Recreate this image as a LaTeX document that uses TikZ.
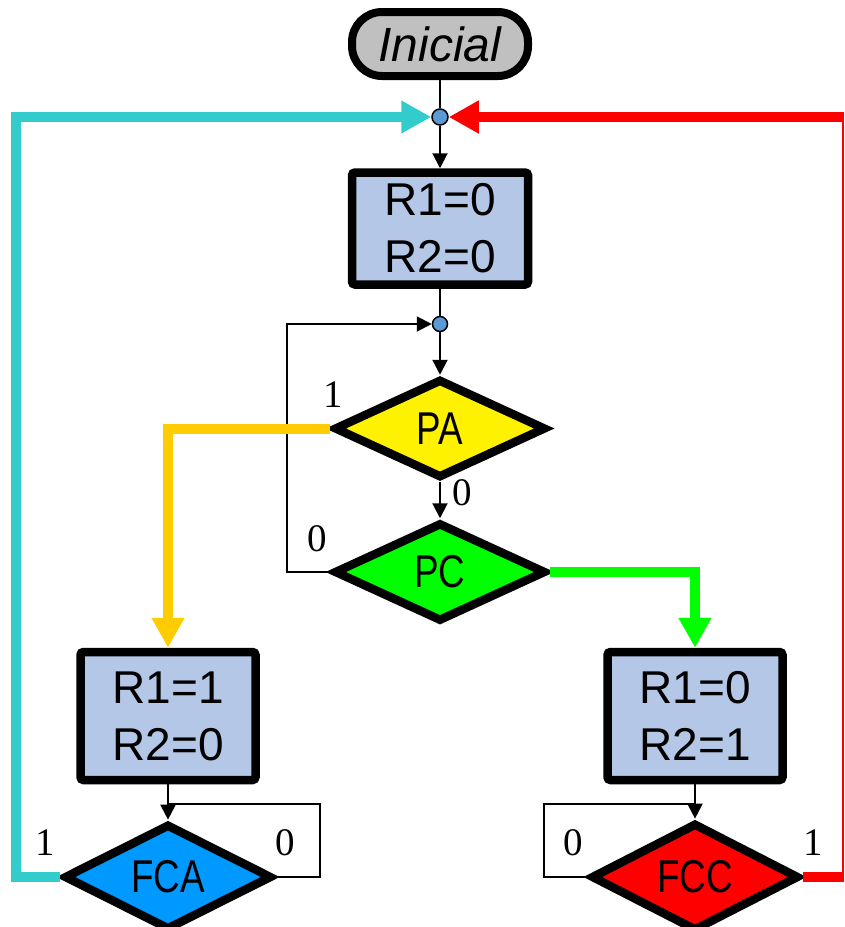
\documentclass[tikz,border=0pt]{standalone}
\usepackage{fontspec}
\setmainfont{Liberation Sans}
\newfontfamily\labelfont{Liberation Serif}
\newfontfamily\narrowfont[FakeStretch=0.8]{Liberation Sans}
\usetikzlibrary{shapes.geometric,arrows.meta}

\definecolor{boxblue}{HTML}{B4C7E7}
\definecolor{dotblue}{HTML}{5B9BD5}
\definecolor{startgray}{HTML}{C0C0C0}
\definecolor{fcablue}{HTML}{0099FF}
\definecolor{tealline}{HTML}{33CCCC}
\definecolor{amberline}{HTML}{FFCC00}
\definecolor{limeline}{HTML}{00FF00}

\begin{document}
\begin{tikzpicture}[x=1pt,y=-1pt,
  startbox/.style={draw, line width=8pt, fill=startgray, rounded corners=30pt,
    minimum width=176pt, minimum height=64pt, inner sep=0pt,
    font=\fontsize{48}{56}\selectfont\itshape},
  regbox/.style={draw, line width=8.5pt, fill=boxblue, rounded corners=3pt,
    minimum width=176pt, inner sep=0pt, align=center,
    font=\fontsize{46}{57}\selectfont},
  test/.style={draw, diamond, line width=8.5pt, minimum width=212pt,
    minimum height=99pt, inner sep=0pt, font=\fontsize{46}{50}\selectfont\narrowfont},
  junction/.style={draw, circle, line width=1.5pt, fill=dotblue,
    minimum size=16pt, inner sep=0pt},
  wire/.style={line width=2pt},
  flow/.style={line width=2pt, -{Triangle[length=15pt,width=15pt]}},
  branch/.style={line width=10pt, -{Triangle[length=30pt,width=31pt]}},
  widewire/.style={line width=10pt},
  bit/.style={font=\fontsize{39}{40}\selectfont\labelfont, inner sep=0pt}
]
\useasboundingbox (0,0) rectangle (844,927);

% blocks
\node[startbox] (ini) at (440,44) {Inicial};
\node[junction] (c1) at (440,117) {};
\node[regbox, minimum height=112pt] (b1) at (440,228.5) {R1=0\\R2=0};
\node[junction, minimum size=15pt] (c2) at (440,324) {};
\node[test, fill=yellow] (pa) at (440,428.5) {PA};
\node[test, fill=limeline] (pc) at (440,572) {PC};
\node[regbox, minimum height=128pt, minimum width=175pt] (b2) at (168,716) {R1=1\\R2=0};
\node[regbox, minimum height=128pt, minimum width=175pt] (b3) at (695,716) {R1=0\\R2=1};
\node[test, fill=fcablue, minimum width=208pt] (fca) at (168,877) {FCA};
\node[test, fill=red, minimum width=208pt] (fcc) at (695,877) {FCC};

% turning points of the return paths
\coordinate (pcret) at (287,324);
\coordinate (fcaret) at (320,804);
\coordinate (fccret) at (544,804);
\coordinate (tealcorner) at (16,117);
\coordinate (redx) at (842.5,117);
\coordinate (rtop) at (844,117);

% main flow
\draw[wire] (ini.south) -- (c1.north);
\draw[flow] (c1.south) -- (b1.north);
\draw[wire] (b1.south) -- (c2.north);
\draw[flow] (c2.south) -- (pa.north);
\draw[flow] (pa.south) -- (pc.north);
\draw[flow] (pc.west) -| (pcret) -- (c2.west);
\draw[flow] (b2.south) -- (fca.north);
\draw[flow] (b3.south) -- (fcc.north);
\draw[wire] (fca.east) -| (fcaret) -- (fcaret -| b2.south);
\draw[wire] (fcc.west) -| (fccret) -- (fccret -| b3.south);

% coloured branches
\draw[branch, amberline] (pa.west) -| (b2.north);
\draw[branch, limeline] (pc.east) -| (b3.north);
\draw[branch, tealline] (fca.west) -| (tealcorner) -- (c1.west);
\draw[widewire, red] (fcc.east) -- (fcc.east -| rtop);
\draw[wire, red] (fcc.east -| redx) -- (redx);
\draw[branch, red] (rtop) -- (c1.east);

% branch values
\node[bit] (pa1) at (333,395) {1};
\node[bit] (pa0) at (462,493) {0};
\node[bit] (pc0) at (317,539) {0};
\node[bit] (fca1) at (45,843) {1};
\node[bit] (fca0) at (285,843) {0};
\node[bit] (fcc0) at (573,843) {0};
\node[bit] (fcc1) at (813,843) {1};
\end{tikzpicture}
\end{document}
